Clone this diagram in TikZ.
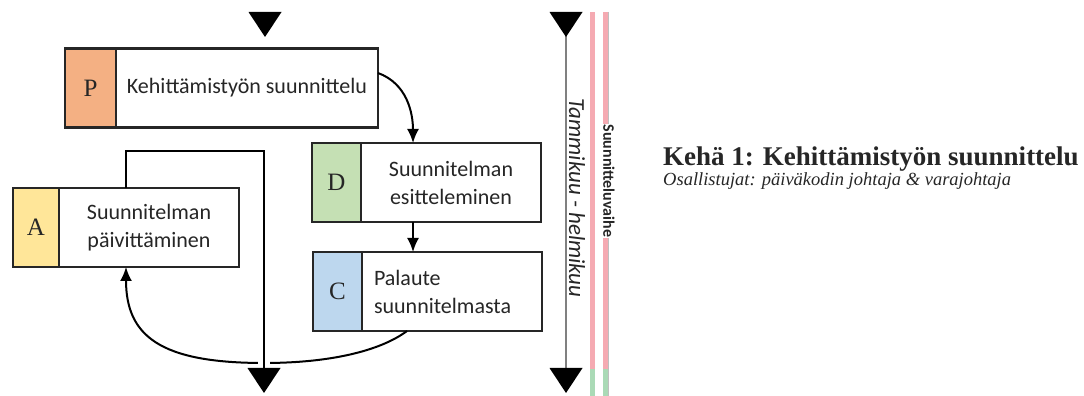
\documentclass[tikz,border=0pt]{standalone}
\usepackage{fontspec}
\setmainfont{Carlito}
\newfontfamily\serifface{Liberation Serif}
\usetikzlibrary{arrows.meta, calc, positioning}

\definecolor{pOrange}{RGB}{244,176,131}
\definecolor{dGreen}{RGB}{197,224,180}
\definecolor{cBlue}{RGB}{189,215,238}
\definecolor{aYellow}{RGB}{255,230,153}
\definecolor{phasePink}{RGB}{245,170,178}
\definecolor{phaseGreen}{RGB}{170,218,182}
\definecolor{ink}{RGB}{38,38,38}

\tikzset{
  letterbox/.style={draw=ink, line width=2.5pt, minimum height=79pt, outer sep=0pt,
    inner sep=0pt, text=ink, font=\serifface\fontsize{25}{25}\selectfont},
  textbox/.style={draw=ink, line width=2.5pt, fill=white, minimum height=79pt, outer sep=0pt,
    inner sep=6pt, align=center, text=ink, font=\fontsize{22}{28}\selectfont},
  flow/.style={line width=2pt, -{Latex[length=14pt, width=12pt]}},
}

\begin{document}
\begin{tikzpicture}[x=1pt, y=1pt]
  \useasboundingbox (0,0) rectangle (1084,396);

  % PDCA steps
  \node[letterbox, fill=pOrange, minimum width=51pt] (P) at (90.5,308) {P};
  \node[textbox, right=0pt of P, minimum width=262pt] (Ptext) {Kehittämistyön suunnittelu};

  \node[letterbox, fill=dGreen, minimum width=49pt] (D) at (336.5,213.5) {D};
  \node[textbox, right=0pt of D, minimum width=180pt] (Dtext) {Suunnitelman\\esitteleminen};

  \node[letterbox, fill=cBlue, minimum width=49pt] (C) at (337.5,104.5) {C};
  \node[textbox, right=0pt of C, minimum width=180pt, text width=156pt, align=left, inner sep=12pt] (Ctext) {Palaute\\suunnitelmasta};

  \node[letterbox, fill=aYellow, minimum width=46pt] (A) at (36,168.5) {A};
  \node[textbox, right=0pt of A, minimum width=180pt] (Atext) {Suunnitelman\\päivittäminen};

  % connectors
  \coordinate (aTop) at ($(A.north west)!0.5!(Atext.north east)$);
  \coordinate (aBottom) at ($(A.south west)!0.5!(Atext.south east)$);
  \coordinate (cBottom) at ([xshift=-45pt]Ctext.south);
  \coordinate (loopEnd) at (264,28);

  \draw[flow] ([yshift=15pt]Ptext.east) to[out=-20, in=90] ([xshift=-38pt]Dtext.north);
  \draw[flow] ([xshift=-38pt]Dtext.south) -- ([xshift=-38pt]Dtext.south |- Ctext.north);
  \draw[flow] (cBottom) .. controls (380,45) and (330,33) .. (264,33)
    .. controls (160,33) and (126,60) .. (aBottom);

  \draw[white, line width=12pt] (264,245) -- (loopEnd);
  \draw[line width=2pt] (aTop) -- ++(0,37) -| (loopEnd);

  % time line and phase bars
  \coordinate (timeTop) at (566,361);
  \coordinate (timeEnd) at (566,28);
  \draw[gray, line width=1.3pt] (timeTop) -- (timeEnd);

  \foreach \x in {592, 605} {
    \fill[phasePink] (\x-2.5,384) rectangle (\x+2.5,27);
    \fill[phaseGreen] (\x-2.5,27) rectangle (\x+2.5,0);
  }
  \draw[gray!50, line width=0.5pt] (608,384) -- (608,0);

  \foreach \tx/\ty in {265/384, 264/28, 566/384, 566/28} {
    \fill[black] (\tx-16.5,\ty) -- (\tx+16.5,\ty) -- (\tx,\ty-25) -- cycle;
  }

  \node[rotate=-90, text=ink, font=\itshape\fontsize{23}{23}\selectfont] (months) at (577,198) {Tammikuu - helmikuu};
  \node[rotate=-90, fill=white, inner sep=1pt, text=ink, font=\bfseries\fontsize{16}{16}\selectfont] (phase) at (609,215) {Suunnitteluvaihe};

  % caption
  \node[anchor=base west, inner sep=0pt, text=ink, font=\serifface\bfseries\fontsize{27}{27}\selectfont] (title) at (663,230) {Kehä 1: Kehittämistyön suunnittelu};
  \node[anchor=base west, inner sep=0pt, text=ink, font=\serifface\itshape\fontsize{18.5}{18.5}\selectfont] (members) at (663,210) {Osallistujat: päiväkodin johtaja \& varajohtaja};
\end{tikzpicture}
\end{document}
